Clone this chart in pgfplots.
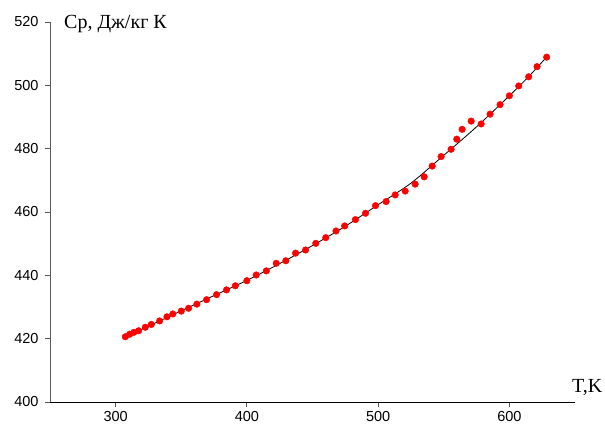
\documentclass[border=0pt]{standalone}
\usepackage{pgfplots}
\pgfplotsset{compat=1.18}
\usepackage{fontspec}
\setmainfont{Liberation Serif}
\newfontfamily\arial{Liberation Sans}
\begin{document}
\begin{tikzpicture}[x=1pt,y=1pt]
\path[use as bounding box] (0,0) rectangle (605,430);
\begin{axis}[
  at={(50pt,28pt)}, anchor=south west,
  scale only axis, width=525pt, height=380pt,
  xmin=250, xmax=650, ymin=400, ymax=520,
  axis x line=bottom, axis y line=left,
  axis line style={-},
  x axis line style={black, line width=0.9pt},
  y axis line style={black!65, line width=0.9pt},
  xtick={300,400,500,600}, ytick={400,420,...,520},
  tick align=outside, major tick length=5pt,
  tick style={black!65, line width=0.8pt},
  minor tick num=0,
  ticklabel style={font=\arial\fontsize{14.5}{16}\selectfont},
  /pgf/number format/assume math mode=true,
  xticklabel style={yshift=-1pt},
  yticklabel style={xshift=-3pt},
  clip=false,
]
\addplot[black, line width=0.8pt, smooth, tension=0.5] coordinates {
(307,420.4) (330,424.9) (350,428.8) (375,433.6) (400,438.4) (425,443.7)
(450,449.4) (475,455.5) (500,462.3) (525,469.1) (550,477.9) (575,486.9)
(600,496.7) (615,502.9) (629,509.2)};
\addplot[only marks, mark=*, mark size=3.3pt, color=red, mark options={fill=red, draw=red}] coordinates {
(307.4,420.6) (310.7,421.4) (313.9,422.0) (317.5,422.5) (322.6,423.6)
(327.2,424.5) (333.5,425.6) (339.1,426.9) (343.6,427.8) (350.0,428.7)
(355.6,429.6) (361.9,430.9) (369.3,432.3) (376.9,433.9) (384.5,435.4)
(391.2,436.7) (400.0,438.3) (407.1,440.1) (414.8,441.4) (422.4,443.8)
(429.7,444.6) (437.1,447.0) (444.7,448.0) (452.5,450.1) (460.1,451.9)
(467.9,454.0) (474.5,455.6) (482.7,457.6) (490.4,459.6) (498.0,462.0)
(506.1,463.3) (513.0,465.4) (520.6,466.6) (528.2,468.8) (535.1,471.1)
(541.2,474.5) (548.0,477.5) (555.6,479.8) (559.9,483.0) (564.0,486.1)
(570.9,488.7) (578.5,487.8) (585.3,490.9) (592.9,493.9) (600.0,496.7)
(607.1,499.8) (614.7,502.7) (621.1,505.9) (628.4,508.9)};
\node[anchor=base west, inner sep=0pt, font=\fontsize{20}{22}\selectfont] at (rel axis cs:0,1) [xshift=14pt, yshift=-7pt] {Ср, Дж/кг К};
\node[anchor=base west, inner sep=0pt, font=\fontsize{20}{22}\selectfont] at (rel axis cs:1,0) [xshift=-3pt, yshift=9pt] {T,K};
\end{axis}
\end{tikzpicture}
\end{document}
